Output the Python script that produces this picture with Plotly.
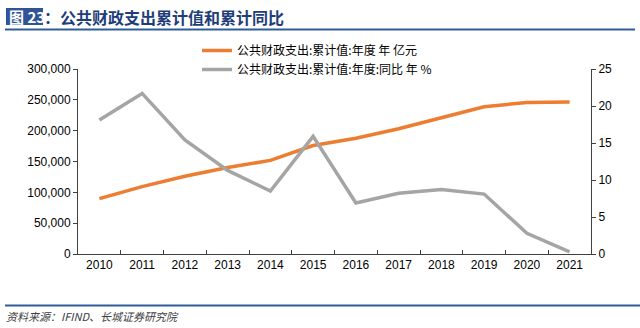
import plotly.graph_objects as go

years = ["2010", "2011", "2012", "2013", "2014", "2015", "2016", "2017", "2018", "2019", "2020", "2021"]
expenditure = [89874, 109248, 125953, 140212, 151786, 175878, 187755, 203085, 220904, 238858, 245679, 246322]
yoy = [18.1, 21.7, 15.4, 11.3, 8.5, 15.9, 6.9, 8.2, 8.7, 8.1, 2.8, 0.3]
left_ticks = [0, 50000, 100000, 150000, 200000, 250000, 300000]
left_tick_text = ["0", "50,000", "100,000", "150,000", "200,000", "250,000", "300,000"]
right_ticks = [0, 5, 10, 15, 20, 25]
name1 = "公共财政支出:累计值:年度 年 亿元"
name2 = "公共财政支出:累计值:年度:同比 年 %"
title_tag = "图 23"
title_text = "：公共财政支出累计值和累计同比"
source_text = "资料来源：IFIND、长城证券研究院"

W, H = 640, 328
L, R, T, B = 78, 591, 69, 254


def px(x):
    return (x - L) / (R - L)


def py(y):
    return 1 - (y - T) / (B - T)


FONT = "Liberation Sans, Arial, Noto Sans CJK SC, sans-serif"
CJK = "Noto Sans CJK SC, sans-serif"

fig = go.Figure()
fig.add_trace(go.Scatter(x=years, y=expenditure, name=name1, mode="lines",
                         line=dict(color="#ED7D31", width=3.5), yaxis="y"))
fig.add_trace(go.Scatter(x=years, y=yoy, name=name2, mode="lines",
                         line=dict(color="#A5A5A5", width=3.5), yaxis="y2"))

fig.update_layout(
    width=W, height=H,
    margin=dict(l=L, r=W - R, t=T, b=H - B),
    paper_bgcolor="white", plot_bgcolor="white",
    font=dict(family=FONT, size=12, color="#000000"),
    showlegend=True,
    legend=dict(x=px(197), xanchor="left", y=py(36), yanchor="top",
                font=dict(family=CJK, size=12, color="#000"),
                bgcolor="rgba(0,0,0,0)", tracegroupgap=0, itemwidth=30),
    xaxis=dict(type="category", range=[-0.5, 11.5], showline=True, linecolor="#404040",
               linewidth=1, ticks="inside", ticklen=4, tickcolor="#404040",
               tickson="boundaries", showgrid=False, zeroline=False,
               tickfont=dict(family=FONT, size=12, color="#000")),
    yaxis=dict(range=[0, 300000], tickvals=left_ticks, ticktext=left_tick_text,
               showline=True, linecolor="#404040", linewidth=1, ticks="outside",
               ticklen=4, tickcolor="#404040", showgrid=False, zeroline=False,
               tickfont=dict(family=FONT, size=12, color="#000")),
    yaxis2=dict(range=[0, 25], tickvals=right_ticks, overlaying="y", side="right",
                showline=True, linecolor="#404040", linewidth=1, ticks="outside",
                ticklen=4, tickcolor="#404040", showgrid=False, zeroline=False,
                tickfont=dict(family=FONT, size=12, color="#000")),
    hovermode=False,
)

shapes = [
    dict(type="rect", xref="paper", yref="paper", x0=px(6), x1=px(43), y0=py(8), y1=py(25),
         fillcolor="#2F5597", line=dict(width=0), layer="below"),
    dict(type="line", xref="paper", yref="paper", x0=px(5), x1=px(635), y0=py(29.5), y1=py(29.5),
         line=dict(color="#2E5C9A", width=2)),
    dict(type="line", xref="paper", yref="paper", x0=px(5), x1=px(640), y0=py(305.5), y1=py(305.5),
         line=dict(color="#2E5C9A", width=2)),
]
fig.update_layout(shapes=shapes)

fig.add_annotation(xref="paper", yref="paper", x=px(7), y=py(16.5), xanchor="left", yanchor="middle",
                   text="<b>" + title_tag + "</b>", showarrow=False,
                   font=dict(family=CJK, size=15, color="white"))
fig.add_annotation(xref="paper", yref="paper", x=px(42), y=py(16.5), xanchor="left", yanchor="middle",
                   text="<b>" + title_text + "</b>", showarrow=False,
                   font=dict(family=CJK, size=16, color="#1F3E79"))
fig.add_annotation(xref="paper", yref="paper", x=px(4), y=py(316), xanchor="left", yanchor="middle",
                   text="<i>" + source_text + "</i>", showarrow=False,
                   font=dict(family=CJK, size=11, color="#404040"))

fig.write_html("out.html")
